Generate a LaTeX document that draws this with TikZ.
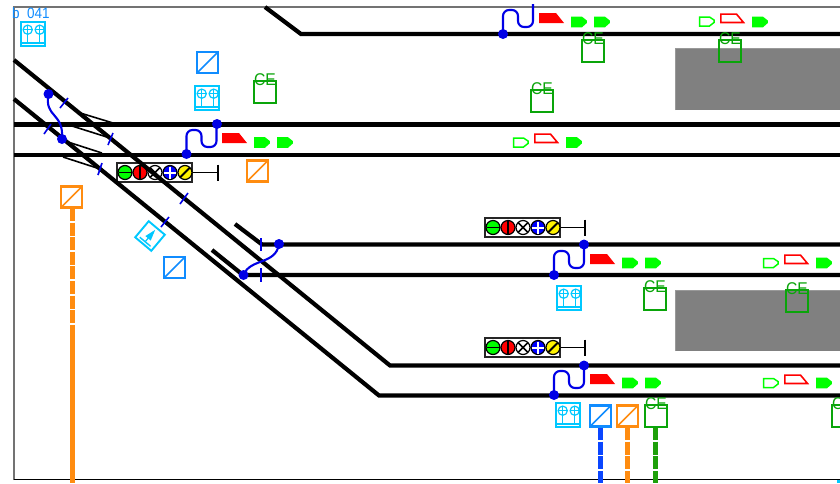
\documentclass[tikz,border=0pt]{standalone}
\usepackage{fontspec}
\setmainfont{Liberation Sans}
\definecolor{cegreen}{RGB}{10,165,10}
\definecolor{bluebox}{RGB}{16,140,255}
\definecolor{orangebox}{RGB}{255,140,16}
\definecolor{cyanbox}{RGB}{0,200,255}
\definecolor{sgreen}{RGB}{0,255,0}
\definecolor{pblue}{RGB}{0,0,230}
\definecolor{feedblue}{RGB}{10,70,255}
\definecolor{feedgreen}{RGB}{30,160,10}
\tikzset{
  x=1pt,y=-1pt,
  track/.style={line width=4.2pt,black,line join=miter},
  thin track/.style={line width=1.6pt,black},
  tick/.style={line width=1.6pt,pblue},
  squig/.style={line width=2.1pt,pblue,rounded corners=6pt},
  dot/.style={circle,fill=pblue,inner sep=0pt,minimum size=10pt},
  lamp/.style={line width=1.2pt,black},
  thick feed/.style={line width=5pt},
  dash feed/.style={thick feed,dash pattern=on 13pt off 1.6pt},
  cetext/.style={font=\fontsize{17}{17}\selectfont,text=cegreen,inner sep=0pt,xscale=.92},
}
% diagonal box: x y colour
\newcommand{\diagbox}[3]{\draw[#3,line width=2.2pt] (#1,#2) rectangle ++(21,21);
  \draw[#3,line width=1.6pt] (#1,#2+21) -- ++(21,-21);}
% CE box
\newcommand{\cebox}[3]{\draw[cegreen,line width=1.9pt] (#2,#3) rectangle ++(22,22);
  \node[cetext] (#1) at (#2+11,#3-1) {CE};}
% station symbol (origin = box top-left, 24 wide)
\newcommand{\stationbox}[2]{\begin{scope}[shift={(#1,#2)},cyanbox]
  \draw[line width=1.9pt] (0,0) rectangle (24,24);
  \draw[line width=1.2pt] (6.7,7.7) circle (4.6) (18.7,7.7) circle (4.6);
  \draw[line width=1pt] (2.1,7.7) -- (11.3,7.7) (6.7,3.1) -- (6.7,20.8) (14.1,7.7) -- (23,7.7) (18.7,3.1) -- (18.7,20.8);
  \draw[line width=1.4pt] (1,20.8) -- (23,20.8);
  \end{scope}}
% solid / outline cab & arrow
\newcommand{\arrowshape}[2]{(#1,#2-5.3) -- (#1+11,#2-5.3) -- (#1+15.8,#2-1.5) -- (#1+15.8,#2+1) -- (#1+11,#2+5.3) -- (#1,#2+5.3) -- cycle}
\newcommand{\solidarrow}[2]{\fill[sgreen] \arrowshape{#1}{#2};}
\newcommand{\openarrow}[2]{\draw[sgreen,line width=1.5pt] (#1+.7,#2-4.5) -- (#1+10.5,#2-4.5) -- (#1+15,#2-1.5) -- (#1+15,#2+1) -- (#1+10.5,#2+4.5) -- (#1+.7,#2+4.5) -- cycle;}
\newcommand{\solidcab}[2]{\fill[red] (#1,#2) -- (#1+17,#2) -- (#1+25,#2+10) -- (#1,#2+10) -- cycle;}
\newcommand{\opencab}[2]{\draw[red,line width=1.6pt] (#1+.8,#2+.6) -- (#1+16.5,#2+.6) -- (#1+23.5,#2+9) -- (#1+.8,#2+9) -- cycle;}
% squiggle from lower-left dot
\newcommand{\squiggle}[2]{\draw[squig] (#1,#2) -- (#1,#2-24) -- (#1+15,#2-24) -- (#1+15,#2-7) -- (#1+30,#2-7) -- (#1+30,#2-30);}
% signal panel; left x, centre y, bar x
\newcommand{\signalpanel}[3]{\begin{scope}[shift={(#1,#2)}]
  \draw[black,line width=1.7pt] (26,0) -- (#3-#1,0);
  \draw[black,line width=2.6pt] (#3-#1,-8) -- (#3-#1,8);
  \fill[white] (0,-9.5) rectangle (75,9.5);
  \draw[black!85,line width=1.5pt] (0,-9.5) rectangle (75,9.5);
  \draw[lamp,fill=sgreen] (8,0) circle (7);
  \draw[line width=1.8pt] (1.5,0) -- (14.5,0);
  \draw[lamp,fill=red] (23,0) circle (7);
  \draw[line width=1.8pt] (23,-6.5) -- (23,6.5);
  \draw[lamp,fill=white] (38,0) circle (7);
  \draw[line width=1.7pt] (33.4,-4.6) -- (42.6,4.6) (33.4,4.6) -- (42.6,-4.6);
  \draw[lamp,fill=blue] (53,0) circle (7);
  \draw[line width=2pt,white] (47,0) -- (59,0) (53,-6) -- (53,6);
  \draw[lamp,fill=yellow] (68,0) circle (7);
  \draw[line width=1.9pt] (63.4,4.6) -- (72.6,-4.6);
  \end{scope}}
\begin{document}
\begin{tikzpicture}
\useasboundingbox (0,0) rectangle (840,483);
\fill[white] (0,0) rectangle (840,483);
% frame
\draw[black!55,line width=1.5pt] (14,480) -- (14,7) -- (840,7);
\draw[black,line width=1.1pt] (14,479.5) -- (840,479.5);
\fill[cyanbox] (837,480) rectangle (840,483);
% text
\node[anchor=base west,inner sep=0pt,text=bluebox,font=\fontsize{15}{15}\selectfont,xscale=.9] (lbl) at (12,18) {b\hspace{.55em}041};
% platforms
\fill[gray] (675,48) rectangle (840,110);
\draw[black!40,line width=.8pt] (675,110) -- (675,48) -- (840,48);
\fill[gray] (675,290) rectangle (840,351);
\draw[black!40,line width=.8pt] (675,351) -- (675,290) -- (840,290);
% signal panels (under tracks)
\signalpanel{117}{172.5}{218}
\signalpanel{485}{227.5}{585}
\signalpanel{485}{347.5}{585}
% horizontal tracks
\draw[track] (265,7) -- (301,34) -- (840,34);
\draw[track] (14,124.5) -- (840,124.5);
\draw[track] (14,155) -- (840,155);
\draw[track] (235,224) -- (262,244.5) -- (840,244.5);
\draw[track] (212,250) -- (243,275) -- (840,275);
% thin ties
\draw[thin track] (77,112) -- (113,123);
\draw[thin track] (72,126) -- (110,138);
\draw[thin track] (68,142) -- (102,153);
\draw[thin track] (63,157) -- (97,168);
% diagonals
\draw[track] (14,60) -- (390,365.5) -- (840,365.5);
\draw[track] (14,99) -- (379,395.5) -- (840,395.5);
% ticks
\draw[tick] (60,108) -- (68,98);
\draw[tick] (44,134) -- (51,124);
\draw[tick] (108,145) -- (113,133);
\draw[tick] (98,175) -- (102,163);
\draw[tick] (180,204) -- (188,193);
\draw[tick] (161,227) -- (169,217);
\draw[tick] (261,238) -- (261,251);
\draw[tick] (261,268) -- (261,282);
% blue dots & links
\node[dot] (a1) at (48.5,94) {};
\node[dot] (a2) at (62,139) {};
\draw[line width=2.1pt,pblue] (a1.center) .. controls (44,118) and (64,112) .. (a2.center);
\node[dot] (b1) at (186.5,154) {};
\node[dot] (b2) at (217,124) {};
\squiggle{186.5}{154}
\node[dot] (c1) at (243.5,275) {};
\node[dot] (c2) at (279,244) {};
\draw[line width=2.1pt,pblue] (c1.center) .. controls (250,258) and (276,265) .. (c2.center);
\node[dot] (d1) at (554,275) {};
\node[dot] (d2) at (584,244.5) {};
\squiggle{554}{275}
\node[dot] (e1) at (554,395) {};
\node[dot] (e2) at (584,365.5) {};
\squiggle{554}{395}
\node[dot] (f1) at (503,34) {};
\squiggle{503}{34}
% trains
\solidcab{222}{133}\solidarrow{254}{142.5}\solidarrow{277}{142.5}
\solidcab{539}{13}\solidarrow{571}{22}\solidarrow{594}{22}
\solidcab{590}{254}\solidarrow{622}{263}\solidarrow{645}{263}
\solidcab{590}{374}\solidarrow{622}{383}\solidarrow{645}{383}
\openarrow{513}{142.5}\opencab{534}{133.5}\solidarrow{566}{142.5}
\openarrow{699}{21.5}\opencab{720}{13.5}\solidarrow{752}{22}
\openarrow{763}{263}\opencab{784}{254.5}\solidarrow{816}{263}
\openarrow{763}{383}\opencab{784}{374.5}\solidarrow{816}{383}
% feeds
\draw[orangebox,dash feed] (72,208) -- (72,325);
\draw[orangebox,thick feed] (72,325) -- (72,483);
\draw[feedblue,dash feed] (600.5,427) -- (600.5,483);
\draw[orangebox,dash feed] (627.5,427) -- (627.5,483);
\draw[feedgreen,dash feed] (655.5,427) -- (655.5,483);
% diagonal boxes
\diagbox{197}{52}{bluebox}
\diagbox{164}{257}{bluebox}
\diagbox{590}{405.5}{bluebox}
\diagbox{247}{160.5}{orangebox}
\diagbox{61}{186.5}{orangebox}
\diagbox{617}{405.5}{orangebox}
% station boxes
\stationbox{21}{22}
\stationbox{195}{86}
\stationbox{557}{286}
\stationbox{556}{403}
% rotated box
\begin{scope}[shift={(150,236)},rotate=-40,cyanbox]
  \draw[line width=1.9pt,fill=white] (-10.5,-10.5) rectangle (10.5,10.5);
  \draw[line width=1.4pt] (-7,7.5) -- (7,7.5);
  \draw[line width=1.2pt] (0,7.5) -- (0,-6);
  \fill (0,-8) -- (3.5,3) -- (-3.5,3) -- cycle;
\end{scope}
% CE boxes
\cebox{ce1}{254}{81}
\cebox{ce2}{582}{40}
\cebox{ce3}{719}{40}
\cebox{ce4}{531}{90}
\cebox{ce5}{644}{288}
\cebox{ce6}{786}{290}
\cebox{ce7}{645}{405}
\cebox{ce8}{832}{405}
\end{tikzpicture}
\end{document}
